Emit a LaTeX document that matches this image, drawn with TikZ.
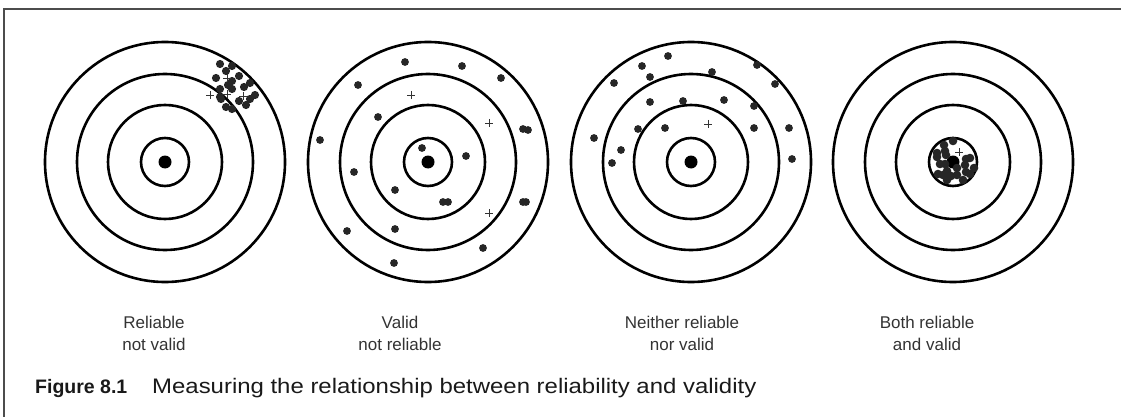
\documentclass[tikz,border=0pt]{standalone}
\usepackage{fontspec}
\setmainfont{Liberation Sans}
\newfontfamily\capwide[FakeStretch=1.14]{Liberation Sans}
\begin{document}
\begin{tikzpicture}[x=1pt,y=-1pt,
  ring/.style={line width=2.6pt, black},
  shot/.style={fill=black!85},
  cross/.style={line width=0.8pt, black!80},
  lbl/.style={anchor=base, text=black!80, font=\fontsize{17}{20}\selectfont, inner sep=0pt},
  capbold/.style={anchor=base west, text=black!90, font=\fontsize{19.5}{22}\selectfont\bfseries, inner sep=0pt},
  captxt/.style={anchor=base west, text=black!90, font=\capwide\fontsize{21}{24}\selectfont, inner sep=0pt},
  frame/.style={line width=1.4pt, black!70}]
\useasboundingbox (0,0) rectangle (1121,417);
% frame
\coordinate (fa) at (1121,9);
\coordinate (fb) at (4,9);
\coordinate (fc) at (4,417);
\draw[frame] (fa) -- (fb) -- (fc);
% targets
\foreach \cx/\nm in {165/t1,428/t2,691/t3,953/t4}{
  \coordinate (\nm) at (\cx,162);
  \foreach \r in {120,88,57,24}{\draw[ring] (\nm) circle[radius=\r];}
  \fill[black] (\nm) circle[radius=6.5];
}
% target 1 shots
\foreach \x/\y in {220/64,232/66,226/71,239/76,216/78,232/81,250/83,220/89,232/89,244/87,
  228/85,221/99,239/101,250/99,255/95,246/105,226/107,232/109,220/97}
  {\fill[shot] (\x,\y) circle[radius=4.1];}
\foreach \x/\y in {227/78,210/95,227/94,243/96}
  {\draw[cross] (\x-4,\y) -- (\x+4,\y) (\x,\y-4) -- (\x,\y+4);}
% target 2 shots
\foreach \x/\y in {405/62,462/66,501/78,358/85,378/117,320/140,523/129,528/130,422/148,466/156,
  354/172,395/190,443/202,448/202,523/202,526/202,347/231,395/229,483/248,394/263}
  {\fill[shot] (\x,\y) circle[radius=3.9];}
\foreach \x/\y in {411/95,489/123,489/213}
  {\draw[cross] (\x-4,\y) -- (\x+4,\y) (\x,\y-4) -- (\x,\y+4);}
% target 3 shots
\foreach \x/\y in {668/56,642/66,757/65,614/83,650/77,712/72,775/84,650/102,683/101,724/100,
  754/106,638/129,665/128,754/128,789/128,594/138,621/150,612/163,792/159}
  {\fill[shot] (\x,\y) circle[radius=3.9];}
\foreach \x/\y in {708/124}
  {\draw[cross] (\x-4,\y) -- (\x+4,\y) (\x,\y-4) -- (\x,\y+4);}
% target 4 shots
\foreach \x/\y in {953/141,944/145,945/151,937/153,937/157,946/155,966/159,970/158,940/164,945/164,
  965/165,947/171,957/168,974/168,938/174,943/175,957/175,966/172,947/180,963/180,970/174,951/176}
  {\fill[shot] (\x,\y) circle[radius=4.3];}
\foreach \x/\y in {959/152}
  {\draw[cross] (\x-4,\y) -- (\x+4,\y) (\x,\y-4) -- (\x,\y+4);}
% labels
\node[lbl] (l1a) at (154,328) {Reliable};
\node[lbl] (l1b) at (154,350) {not valid};
\node[lbl] (l2a) at (400,328) {Valid};
\node[lbl] (l2b) at (400,350) {not reliable};
\node[lbl] (l3a) at (682,328) {Neither reliable};
\node[lbl] (l3b) at (682,350) {nor valid};
\node[lbl] (l4a) at (927,328) {Both reliable};
\node[lbl] (l4b) at (927,350) {and valid};
% caption
\node[capbold] (cap1) at (35,393) {Figure 8.1};
\node[captxt] (cap2) at (152,393) {Measuring the relationship between reliability and validity};
\end{tikzpicture}
\end{document}
